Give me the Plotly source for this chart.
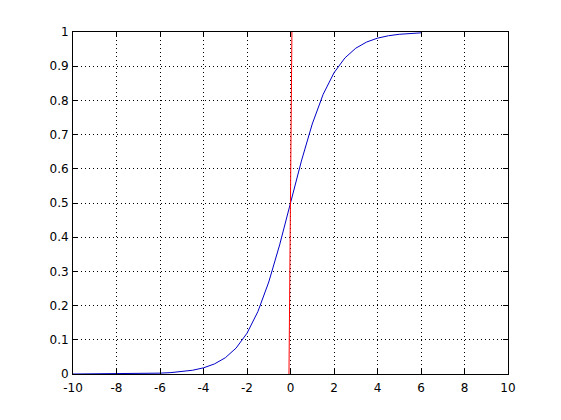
import plotly.graph_objects as go

# Blue curve samples
blue_x = [-10, -9.5, -9, -8.5, -8, -7.5, -7, -6.5, -6, -5.5, -5, -4.5, -4, -3.5, -3,
          -2.5, -2, -1.5, -1, -0.5, 0, 0.5, 1, 1.5, 2, 2.5, 3, 3.5, 4, 4.5, 5, 5.5, 6]
blue_y = [0.0000, 0.0001, 0.0001, 0.0002, 0.0003, 0.0006, 0.0009, 0.0015, 0.0025, 0.0041,
          0.0067, 0.0110, 0.0180, 0.0293, 0.0474, 0.0759, 0.1192, 0.1824, 0.2689, 0.3775,
          0.5000, 0.6225, 0.7311, 0.8176, 0.8808, 0.9241, 0.9526, 0.9707, 0.9820, 0.9890,
          0.9933, 0.9959, 0.9975]

# Red near-vertical line
red_x = [-0.07, 0.065]
red_y = [0, 1]

x_ticks = [-10, -8, -6, -4, -2, 0, 2, 4, 6, 8, 10]
x_tick_labels = ["-10", "-8", "-6", "-4", "-2", "0", "2", "4", "6", "8", "10"]
y_ticks = [0, 0.1, 0.2, 0.3, 0.4, 0.5, 0.6, 0.7, 0.8, 0.9, 1]
y_tick_labels = ["0", "0.1", "0.2", "0.3", "0.4", "0.5", "0.6", "0.7", "0.8", "0.9", "1"]

fig = go.Figure()
fig.add_trace(go.Scatter(x=blue_x, y=blue_y, mode="lines",
                         line=dict(color="#0000c8", width=1), showlegend=False))
fig.add_trace(go.Scatter(x=red_x, y=red_y, mode="lines",
                         line=dict(color="#ff0000", width=1), showlegend=False))

axis_common = dict(
    showline=True, linecolor="black", linewidth=1, mirror="allticks",
    ticks="inside", ticklen=5, tickcolor="black", tickwidth=1,
    showgrid=True, gridcolor="black", gridwidth=1, griddash="1px,3px",
    zeroline=False,
    tickfont=dict(family="DejaVu Sans, sans-serif", size=12, color="black"),
)

fig.update_layout(
    width=545, height=404,
    margin=dict(l=65, r=45, t=24, b=38),
    paper_bgcolor="white", plot_bgcolor="white",
    xaxis=dict(range=[-10, 10], tickvals=x_ticks, ticktext=x_tick_labels,
               ticklabelstandoff=3, **axis_common),
    yaxis=dict(range=[0, 1], tickvals=y_ticks, ticktext=y_tick_labels,
               ticklabelstandoff=1, **axis_common),
)

fig.write_html("out.html")
